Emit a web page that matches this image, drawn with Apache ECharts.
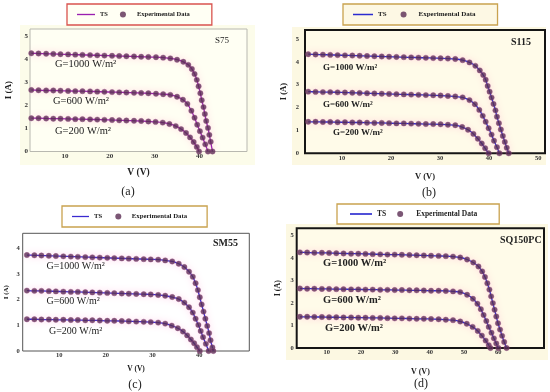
<!DOCTYPE html>
<html><head><meta charset="utf-8">
<script src="https://cdn.jsdelivr.net/npm/echarts@6/dist/echarts.min.js"></script>
<style>html,body{margin:0;padding:0;background:#fff}#c{width:550px;height:392px}</style>
</head><body><div id="c"></div>
<script>
// ---- Data (V, I) ----
const s75_G1000 = [[2.5,4.25],[4.1,4.24],[5.8,4.23],[7.4,4.22],[9.0,4.21],[10.7,4.2],[12.3,4.19],[13.9,4.18],[15.6,4.17],[17.2,4.16],[18.8,4.15],[20.5,4.14],[22.1,4.13],[23.7,4.12],[25.4,4.11],[27.0,4.1],[28.6,4.09],[30.3,4.08],[31.9,4.06],[33.5,4.03],[35.0,3.97],[36.4,3.88],[37.5,3.75],[38.3,3.57],[38.9,3.35],[39.4,3.1],[39.8,2.82],[40.2,2.52],[40.5,2.22],[40.9,1.92],[41.2,1.62],[41.5,1.32],[41.9,1.02],[42.2,0.72],[42.5,0.42],[42.9,0]];
const s75_G600 = [[2.5,2.66],[4.1,2.65],[5.8,2.64],[7.4,2.64],[9.0,2.63],[10.7,2.62],[12.3,2.61],[13.9,2.61],[15.6,2.6],[17.2,2.59],[18.8,2.58],[20.5,2.57],[22.1,2.56],[23.7,2.55],[25.4,2.54],[27.0,2.53],[28.6,2.52],[30.3,2.5],[31.9,2.48],[33.5,2.45],[35.0,2.37],[36.3,2.24],[37.3,2.06],[38.2,1.76],[38.9,1.46],[39.5,1.16],[40.1,0.88],[40.7,0.6],[41.3,0.31],[41.9,0]];
const s75_G200 = [[2.5,1.44],[4.1,1.44],[5.8,1.43],[7.4,1.42],[9.0,1.42],[10.7,1.41],[12.3,1.4],[13.9,1.4],[15.6,1.39],[17.2,1.38],[18.8,1.37],[20.5,1.36],[22.1,1.35],[23.7,1.34],[25.4,1.33],[27.0,1.32],[28.6,1.3],[30.2,1.28],[31.8,1.25],[33.3,1.19],[34.7,1.1],[35.9,0.97],[37.0,0.8],[37.9,0.61],[38.7,0.41],[39.4,0.2],[39.9,0]];

const s115_G1000 = [[3.1,4.34],[4.6,4.33],[6.1,4.32],[7.6,4.31],[9.1,4.3],[10.6,4.29],[12.1,4.28],[13.6,4.27],[15.1,4.26],[16.6,4.25],[18.1,4.24],[19.6,4.23],[21.1,4.22],[22.6,4.21],[24.1,4.2],[25.6,4.19],[27.1,4.18],[28.6,4.17],[30.1,4.16],[31.6,4.15],[33.1,4.13],[34.6,4.08],[36.0,3.98],[37.2,3.83],[38.1,3.63],[38.8,3.43],[39.3,3.22],[39.7,2.95],[40.1,2.7],[40.5,2.44],[40.9,2.16],[41.3,1.88],[41.6,1.6],[42.0,1.32],[42.4,1.04],[42.8,0.76],[43.2,0.5],[43.6,0.24],[44.0,0]];
const s115_G600 = [[3.1,2.7],[4.6,2.69],[6.1,2.68],[7.6,2.68],[9.1,2.67],[10.6,2.66],[12.1,2.65],[13.6,2.64],[15.1,2.63],[16.6,2.62],[18.1,2.61],[19.6,2.6],[21.1,2.59],[22.6,2.58],[24.1,2.57],[25.6,2.56],[27.1,2.55],[28.6,2.54],[30.1,2.53],[31.6,2.51],[33.1,2.49],[34.6,2.45],[36.0,2.33],[37.1,2.15],[38.0,1.9],[38.7,1.64],[39.3,1.38],[39.9,1.1],[40.5,0.82],[41.0,0.55],[41.6,0.27],[42.1,0]];
const s115_G200 = [[3.1,1.38],[4.6,1.38],[6.1,1.37],[7.6,1.37],[9.1,1.36],[10.6,1.36],[12.1,1.35],[13.6,1.35],[15.1,1.34],[16.6,1.33],[18.1,1.33],[19.6,1.32],[21.1,1.31],[22.6,1.31],[24.1,1.3],[25.6,1.29],[27.1,1.28],[28.6,1.28],[30.1,1.27],[31.6,1.25],[33.1,1.23],[34.5,1.15],[35.7,1.03],[36.8,0.85],[37.7,0.64],[38.5,0.43],[39.2,0.22],[39.9,0]];

const sm55_G1000 = [[3.1,3.75],[4.7,3.74],[6.2,3.73],[7.8,3.72],[9.3,3.71],[10.9,3.7],[12.5,3.69],[14.0,3.68],[15.6,3.67],[17.1,3.66],[18.7,3.65],[20.3,3.64],[21.8,3.63],[23.4,3.62],[24.9,3.61],[26.5,3.6],[28.1,3.59],[29.6,3.58],[31.2,3.57],[32.7,3.54],[34.2,3.5],[35.6,3.41],[36.8,3.28],[37.8,3.1],[38.6,2.9],[39.2,2.65],[39.7,2.38],[40.1,2.1],[40.5,1.82],[40.9,1.54],[41.3,1.26],[41.7,0.98],[42.1,0.7],[42.4,0.42],[42.8,0.14],[43.0,0]];
const sm55_G600 = [[3.1,2.36],[4.7,2.35],[6.2,2.35],[7.8,2.34],[9.3,2.33],[10.9,2.32],[12.5,2.31],[14.0,2.31],[15.6,2.3],[17.1,2.29],[18.7,2.28],[20.3,2.27],[21.8,2.26],[23.4,2.25],[24.9,2.24],[26.5,2.23],[28.1,2.22],[29.6,2.21],[31.2,2.19],[32.7,2.16],[34.2,2.11],[35.6,2.03],[36.8,1.89],[37.8,1.71],[38.6,1.5],[39.2,1.26],[39.8,1.02],[40.3,0.78],[40.8,0.54],[41.4,0.28],[42.0,0]];
const sm55_G200 = [[3.1,1.24],[4.7,1.24],[6.2,1.23],[7.8,1.23],[9.3,1.22],[10.9,1.22],[12.5,1.21],[14.0,1.21],[15.6,1.2],[17.1,1.2],[18.7,1.19],[20.3,1.18],[21.8,1.18],[23.4,1.17],[24.9,1.16],[26.5,1.15],[28.1,1.14],[29.6,1.13],[31.2,1.11],[32.7,1.07],[34.1,0.99],[35.4,0.89],[36.5,0.76],[37.4,0.61],[38.2,0.45],[38.9,0.3],[39.5,0.15],[40.1,0]];

const sq150_G1000 = [[2.2,4.26],[4.3,4.25],[6.4,4.24],[8.6,4.24],[10.7,4.23],[12.8,4.22],[14.9,4.21],[17.1,4.2],[19.2,4.2],[21.3,4.19],[23.4,4.18],[25.6,4.17],[27.7,4.16],[29.8,4.16],[31.9,4.15],[34.1,4.14],[36.2,4.13],[38.3,4.12],[40.4,4.11],[42.6,4.1],[44.7,4.09],[46.8,4.07],[48.9,4.03],[50.9,3.94],[52.7,3.81],[54.2,3.63],[55.3,3.41],[56.1,3.16],[56.8,2.88],[57.4,2.6],[57.9,2.3],[58.4,2.0],[58.9,1.7],[59.4,1.4],[59.9,1.1],[60.5,0.82],[61.1,0.54],[61.7,0.27],[62.4,0]];
const sq150_G600 = [[2.2,2.65],[4.3,2.64],[6.4,2.64],[8.6,2.63],[10.7,2.63],[12.8,2.62],[14.9,2.62],[17.1,2.61],[19.2,2.61],[21.3,2.6],[23.4,2.6],[25.6,2.59],[27.7,2.59],[29.8,2.58],[31.9,2.58],[34.1,2.57],[36.2,2.57],[38.3,2.56],[40.4,2.55],[42.6,2.55],[44.7,2.54],[46.8,2.52],[48.9,2.49],[50.9,2.37],[52.6,2.19],[53.9,1.97],[54.9,1.73],[55.7,1.47],[56.5,1.2],[57.2,0.94],[58.0,0.68],[58.7,0.43],[59.4,0.2],[60.0,0]];
const sq150_G200 = [[2.2,1.39],[4.3,1.39],[6.4,1.38],[8.6,1.38],[10.7,1.37],[12.8,1.37],[14.9,1.36],[17.1,1.36],[19.2,1.35],[21.3,1.35],[23.4,1.34],[25.6,1.34],[27.7,1.33],[29.8,1.32],[31.9,1.32],[34.1,1.31],[36.2,1.3],[38.3,1.3],[40.4,1.29],[42.6,1.28],[44.7,1.26],[46.8,1.24],[48.9,1.18],[50.8,1.08],[52.5,0.94],[54.0,0.76],[55.2,0.55],[56.3,0.33],[57.2,0.13],[57.7,0]];

// tick labels
const xTicksA = [10,20,30,40];
const xTicksB = [10,20,30,40,50];
const xTicksC = [10,20,30,40];
const xTicksD = [10,20,30,40,50,60];
const yTicks5 = [0,1,2,3,4,5];
const yTicks4 = [0,1,2,3,4];

const modules = ['S75','S115','SM55','SQ150PC'];
const panelLetters = ['(a)','(b)','(c)','(d)'];
const irradianceLabels = ['G=1000 W/m²','G=600 W/m²','G=200 W/m²'];
const legendNames = ['TS','Experimental Data'];

// ---- Layout ----
const panels = [
  {curves:[s75_G1000,s75_G600,s75_G200], xt:xTicksA, yt:yTicks5, grid:{left:30,top:29,width:217,height:122.5}, xmin:2.2,xmax:50.6,ymax:5.3,
   bg:'#fffff3', border:'#b8b8b0', bw:1, line:'#9a1fb0', xMargin:1, yMargin:2, fs:7,
   xName:{gap:16,size:9.5}, yName:{gap:17,size:9},
   legend:{left:67,top:4,pad:[7,22,7,10],iw:18,gap:12,border:'#d9534f',bg:'#fffff4',fs:6.5}},
  {curves:[s115_G1000,s115_G600,s115_G200], xt:xTicksB, yt:yTicks5, grid:{left:305,top:30,width:240,height:123.3}, xmin:2.45,xmax:51.4,ymax:5.4,
   bg:'#fffbe9', border:'#151515', bw:2, line:'#2b2bd0', xMargin:2, yMargin:6, fs:6.5,
   xName:{gap:19,size:8.5}, yName:{gap:17,size:8.5},
   legend:{left:343,top:4,pad:[7,22,7,10],iw:20,gap:14,border:'#c9a24f',bg:'#fdf8e4',fs:7}},
  {curves:[sm55_G1000,sm55_G600,sm55_G200], xt:xTicksC, yt:yTicks4, grid:{left:22.7,top:233.3,width:226.6,height:117.7}, xmin:2.2,xmax:50.7,ymax:4.6,
   bg:'#ffffff', border:'#555555', bw:1, line:'#3a2ad0', xMargin:1, yMargin:3, fs:6.5,
   xName:{gap:14,size:7.5}, yName:{gap:13,size:7},
   legend:{left:62,top:206,pad:[7,20,7,10],iw:17,gap:13,border:'#c9a24f',bg:'#ffffff',fs:6.8}},
  {curves:[sq150_G1000,sq150_G600,sq150_G200], xt:xTicksD, yt:yTicks5, grid:{left:296.7,top:228.3,width:247.3,height:119.7}, xmin:1.26,xmax:73.3,ymax:5.33,
   bg:'#fffbe9', border:'#151515', bw:2, line:'#2b2bd0', xMargin:1, yMargin:3, fs:6.5,
   xName:{gap:20,size:8}, yName:{gap:15,size:8},
   legend:{left:337,top:204,pad:[6,22,6,13],iw:22,gap:11,border:'#c9a24f',bg:'#ffffff',fs:7.5}}
];

const serif = 'Liberation Serif';
const dotColor = '#5a2c52';
const lineIcon = 'path://M0,0L40,0L40,3L0,3Z';
const grid=[], xAxis=[], yAxis=[], series=[], legend=[];
panels.forEach((p,i)=>{
  grid.push(Object.assign({show:true, backgroundColor:p.bg, borderColor:p.border, borderWidth:p.bw, containLabel:false}, p.grid));
  xAxis.push({type:'value', gridIndex:i, min:p.xmin, max:p.xmax, name:'V (V)', nameLocation:'middle', nameGap:p.xName.gap,
    nameTextStyle:{fontFamily:serif, fontWeight:'bold', fontSize:p.xName.size, color:'#222'},
    axisLine:{show:false}, axisTick:{show:false}, splitLine:{show:false},
    axisLabel:{customValues:p.xt, margin:p.xMargin, fontFamily:serif, fontWeight:'bold', fontSize:p.fs, color:'#333'}});
  yAxis.push({type:'value', gridIndex:i, min:0, max:p.ymax, name:'I (A)', nameLocation:'middle', nameGap:p.yName.gap, nameRotate:90,
    nameTextStyle:{fontFamily:serif, fontWeight:'bold', fontSize:p.yName.size, color:'#222'},
    axisLine:{show:false}, axisTick:{show:false}, splitLine:{show:false},
    axisLabel:{customValues:p.yt, margin:p.yMargin, fontFamily:serif, fontWeight:'bold', fontSize:p.fs, color:'#333'}});
  p.curves.forEach(d=>{
    series.push({name:'TS', type:'line', xAxisIndex:i, yAxisIndex:i, data:d, smooth:0.25, symbol:'none', z:3,
      lineStyle:{color:p.line, width:1.3, shadowColor:'rgba(255,120,190,0.8)', shadowBlur:7},
      itemStyle:{color:p.line}});
    series.push({name:'Experimental Data', type:'scatter', xAxisIndex:i, yAxisIndex:i, data:d, symbol:'circle', symbolSize:5.4, z:4,
      itemStyle:{color:dotColor, borderColor:'#9c4f86', borderWidth:0.5}});
  });
  const L=p.legend;
  legend.push({left:L.left, top:L.top, padding:L.pad, itemWidth:L.iw, itemHeight:6, itemGap:L.gap, orient:'horizontal',
    borderColor:L.border, borderWidth:1.3, backgroundColor:L.bg, selectedMode:false,
    textStyle:{fontFamily:serif, fontWeight:'bold', fontSize:L.fs, color:'#222'},
    data:[{name:legendNames[0], icon:lineIcon, itemStyle:{color:p.line, borderWidth:0}},
          {name:legendNames[1], icon:'circle', itemStyle:{color:dotColor, borderWidth:0}}]});
});

const txt=(x,y,s,size,extra)=>Object.assign({type:'text', z:100, style:Object.assign({x:x,y:y,text:s,fontFamily:serif,fontSize:size,fill:'#222',textVerticalAlign:'middle'},extra||{})});
const graphic = [
  {type:'rect', z:-100, shape:{x:20,y:25,width:235,height:140}, style:{fill:'#fcfcea'}},
  {type:'rect', z:-100, shape:{x:292,y:27,width:254,height:138}, style:{fill:'#fcf8e2'}},
  {type:'rect', z:-100, shape:{x:286,y:224,width:262,height:136}, style:{fill:'#fcf8e2'}},
  // model names
  txt(215,41,modules[0],9,{fontWeight:'normal'}),
  txt(511,42,modules[1],10,{fontWeight:'bold'}),
  txt(213,243,modules[2],10,{fontWeight:'bold'}),
  txt(500,240,modules[3],10,{fontWeight:'bold'}),
  // irradiance labels
  txt(55,64.5,irradianceLabels[0],10.5), txt(53,101,irradianceLabels[1],10.5), txt(55,131.5,irradianceLabels[2],10.5),
  txt(323,67.5,irradianceLabels[0],9,{fontWeight:'bold'}), txt(323,105,irradianceLabels[1],9,{fontWeight:'bold'}), txt(333,133,irradianceLabels[2],9,{fontWeight:'bold'}),
  txt(46.5,266.5,irradianceLabels[0],10), txt(46.5,301.5,irradianceLabels[1],10), txt(49,331,irradianceLabels[2],10),
  txt(323,263.5,irradianceLabels[0],10.5,{fontWeight:'bold'}), txt(323,300,irradianceLabels[1],10.5,{fontWeight:'bold'}), txt(325,328.5,irradianceLabels[2],10.5,{fontWeight:'bold'}),
  // panel letters
  txt(128,192,panelLetters[0],12,{textAlign:'center'}),
  txt(429,193,panelLetters[1],12,{textAlign:'center'}),
  txt(135,385,panelLetters[2],12,{textAlign:'center'}),
  txt(421,384,panelLetters[3],12,{textAlign:'center'})
];

const chart = echarts.init(document.getElementById('c'), null, {renderer:'canvas'});
chart.setOption({animation:false, backgroundColor:'#ffffff', grid, xAxis, yAxis, series, legend, graphic});
</script></body></html>
